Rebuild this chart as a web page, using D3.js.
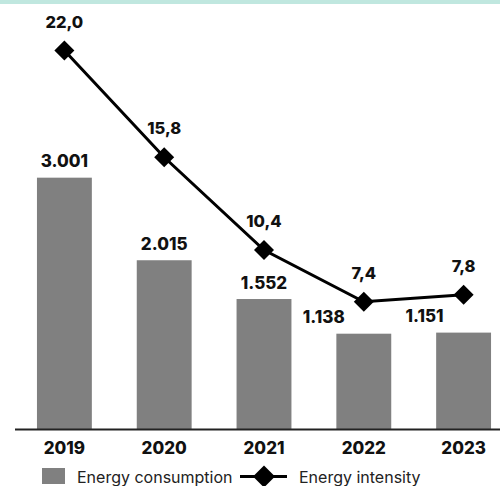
<!DOCTYPE html>
<html>
<head>
<meta charset="utf-8">
<script src="https://cdn.jsdelivr.net/npm/d3@7"></script>
<style>
  html, body { margin: 0; padding: 0; background: #fff; }
  svg { display: block; font-family: Inter, "Open Sans", sans-serif; }
</style>
</head>
<body>
<svg id="chart" width="500" height="486"></svg>
<script>
// Yearly figures
const years = ["2019", "2020", "2021", "2022", "2023"];
const consumption = [3001, 2015, 1552, 1138, 1151];
const intensity = [22.0, 15.8, 10.4, 7.4, 7.8];
const consumptionLabels = ["3.001", "2.015", "1.552", "1.138", "1.151"];
const intensityLabels = ["22,0", "15,8", "10,4", "7,4", "7,8"];
// horizontal nudge for value labels that would collide with the line
const consumptionLabelShift = [0, 0, 0, -40, -39];

const svg = d3.select("#chart");
const baseY = 429;

// top accent band
svg.append("rect").attr("x", 0).attr("y", 0).attr("width", 500).attr("height", 4)
  .attr("fill", "#c0e7df");

const x = d3.scaleBand().domain(years).range([15, 513])
  .paddingInner(0.45).paddingOuter(0.22);
const y1 = d3.scaleLinear().domain([0, 3600]).range([baseY, 127.5]);
const y2 = d3.scaleLinear().domain([0, 24]).range([baseY, 16.2]);

// bars
svg.append("g").selectAll("rect").data(consumption).join("rect")
  .attr("x", (d, i) => x(years[i]))
  .attr("y", d => y1(d))
  .attr("width", x.bandwidth())
  .attr("height", d => baseY - y1(d))
  .attr("fill", "#808080");

// bar value labels
svg.append("g").selectAll("text").data(consumption).join("text")
  .attr("x", (d, i) => x(years[i]) + x.bandwidth() / 2 + consumptionLabelShift[i])
  .attr("y", d => y1(d) - 10.5)
  .attr("text-anchor", "middle")
  .attr("font-size", 17).attr("font-weight", 800).attr("fill", "#111")
  .text((d, i) => consumptionLabels[i]);

// x axis
const xAxis = svg.append("g").attr("transform", `translate(0,${baseY})`)
  .call(d3.axisBottom(x).tickSize(0));
xAxis.select(".domain").attr("d", "M15,0.5H500").attr("stroke", "#222").attr("stroke-width", 2);
xAxis.selectAll(".tick text")
  .attr("y", 25).attr("dy", 0)
  .attr("font-family", "Inter, 'Open Sans', sans-serif")
  .attr("font-size", 17).attr("font-weight", 800).attr("fill", "#111");

// intensity line
const cx = (d, i) => x(years[i]) + x.bandwidth() / 2;
const line = d3.line().x(cx).y(d => y2(d));
svg.append("path").datum(intensity)
  .attr("d", line).attr("fill", "none").attr("stroke", "#000").attr("stroke-width", 3);

const diamond = "M0,-10L10,0L0,10L-10,0Z";
svg.append("g").selectAll("path").data(intensity).join("path")
  .attr("transform", (d, i) => `translate(${cx(d, i)},${y2(d)})`)
  .attr("d", diamond).attr("fill", "#000");

svg.append("g").selectAll("text").data(intensity).join("text")
  .attr("x", cx)
  .attr("y", d => y2(d) - 23)
  .attr("text-anchor", "middle")
  .attr("font-size", 16.5).attr("font-weight", 800).attr("fill", "#111")
  .text((d, i) => intensityLabels[i]);

// legend
const legend = svg.append("g");
legend.append("rect").attr("x", 42).attr("y", 468).attr("width", 23).attr("height", 16)
  .attr("fill", "#808080");
legend.append("text").attr("x", 77).attr("y", 482.5).attr("font-size", 16)
  .attr("fill", "#222").text("Energy consumption");
legend.append("line").attr("x1", 240).attr("x2", 287).attr("y1", 476.5).attr("y2", 476.5)
  .attr("stroke", "#000").attr("stroke-width", 3);
legend.append("path").attr("transform", "translate(264,476.5)")
  .attr("d", "M0,-11L11,0L0,11L-11,0Z").attr("fill", "#000");
legend.append("text").attr("x", 299).attr("y", 482.5).attr("font-size", 16)
  .attr("fill", "#222").text("Energy intensity");
</script>
</body>
</html>
